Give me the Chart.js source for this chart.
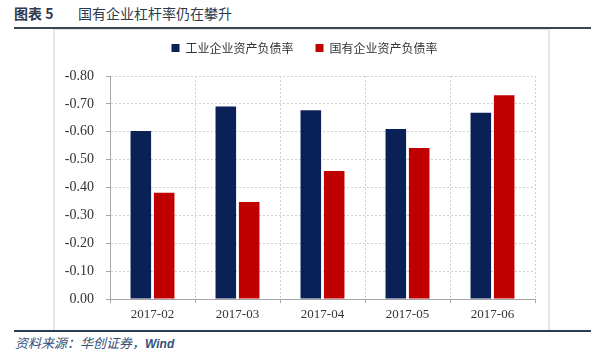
<!DOCTYPE html>
<html>
<head>
<meta charset="utf-8">
<script src="https://cdn.jsdelivr.net/npm/chart.js@4/dist/chart.umd.min.js"></script>
<style>
  html, body { margin: 0; padding: 0; background: #fff; }
  #wrap { position: relative; width: 600px; height: 354px; overflow: hidden; }
  #c { position: absolute; left: 0; top: 0; }
  .t { position: absolute; font-family: "Noto Sans CJK SC", sans-serif; color: #2e3b4e; white-space: nowrap; }
  .line { position: absolute; }
</style>
</head>
<body>
<div id="wrap">
  <div class="t" style="left:14px; top:3px; font-size:14px; font-weight:bold;">图表 5</div>
  <div class="t" style="left:78px; top:3px; font-size:14px;">国有企业杠杆率仍在攀升</div>
  <div class="line" style="left:14px; top:27px; width:577px; height:2px; background:#3c4550;"></div>
  <div class="line" style="left:54px; top:29px; width:496px; height:1px; background:#dde1e6;"></div>
  <div class="line" style="left:53px; top:29px; width:2px; height:301px; background:#e6e6e6;"></div>
  <div class="line" style="left:548px; top:29px; width:2px; height:301px; background:#e6e6e6;"></div>
  <div class="line" style="left:14px; top:330px; width:577px; height:2px; background:#2a3a50;"></div>
  <div class="t" style="left:15px; top:333px; font-size:13px; font-style:italic; color:#34507a;">资料来源：华创证券，<span style="font-family:'Liberation Sans',sans-serif;font-weight:bold;font-size:12px;">Wind</span></div>
  <canvas id="c" width="600" height="354"></canvas>
</div>
<script>
const categories = ["2017-02", "2017-03", "2017-04", "2017-05", "2017-06"];
const industrialDebtRatio = [-0.603, -0.691, -0.677, -0.610, -0.668];
const soeDebtRatio = [-0.381, -0.348, -0.459, -0.542, -0.731];
const seriesNames = ["工业企业资产负债率", "国有企业资产负债率"];
const yTicks = [-0.8, -0.7, -0.6, -0.5, -0.4, -0.3, -0.2, -0.1, 0];

const grid = '#cfcfcf';
const legendExtra = {
  id: 'legendExtra',
  afterInit(chart) {
    const lg = chart.legend;
    if (lg && !lg._patched) {
      const f = lg.fit.bind(lg);
      lg.fit = function () { f(); this.height += 12; };
      lg._patched = true;
    }
  },
  afterLayout(chart) {
    const lg = chart.legend;
    if (lg) { lg.left += 9; lg.right += 9; }
  }
};
new Chart(document.getElementById('c'), {
  type: 'bar',
  data: {
    labels: categories,
    datasets: [
      { label: seriesNames[0], data: industrialDebtRatio, backgroundColor: '#0a2158', borderWidth: 0 },
      { label: seriesNames[1], data: soeDebtRatio, backgroundColor: '#c00000', borderWidth: 0 }
    ]
  },
  options: {
    responsive: false,
    animation: false,
    devicePixelRatio: 1,
    datasets: { bar: { categoryPercentage: 0.55, barPercentage: 0.88 } },
    layout: { padding: { left: 56, right: 65, top: 20, bottom: 27 } },
    plugins: {
      legend: {
        display: true,
        position: 'top',
        labels: {
          boxWidth: 8, boxHeight: 8, padding: 22,
          color: '#333',
          font: { family: '"Noto Sans CJK SC", sans-serif', size: 12 }
        }
      },
      tooltip: { enabled: false }
    },
    scales: {
      x: {
        grid: { display: true, offset: true, color: grid, tickColor: '#a6a6a6', tickLength: 4, tickBorderDash: [] },
        border: { display: true, color: '#a6a6a6', width: 1, dash: [2, 2] },
        ticks: { color: '#333', padding: 4, font: { family: '"Liberation Serif", serif', size: 13 } },
        afterFit: (s) => { s.height = 28; }
      },
      y: {
        reverse: true,
        min: -0.8, max: 0,
        afterBuildTicks: (s) => { s.ticks = yTicks.map(v => ({ value: v })); },
        grid: { color: grid, tickColor: '#a6a6a6', tickLength: 4, tickBorderDash: [] },
        border: { display: true, color: '#a6a6a6', width: 1, dash: [2, 2] },
        ticks: {
          color: '#333', padding: 12,
          font: { family: '"Liberation Serif", serif', size: 14 },
          callback: (v) => (Math.abs(v) < 1e-9 ? 0 : v).toFixed(2)
        },
        afterFit: (s) => { s.width = 54; }
      }
    }
  },
  plugins: [legendExtra]
});
</script>
</body>
</html>
